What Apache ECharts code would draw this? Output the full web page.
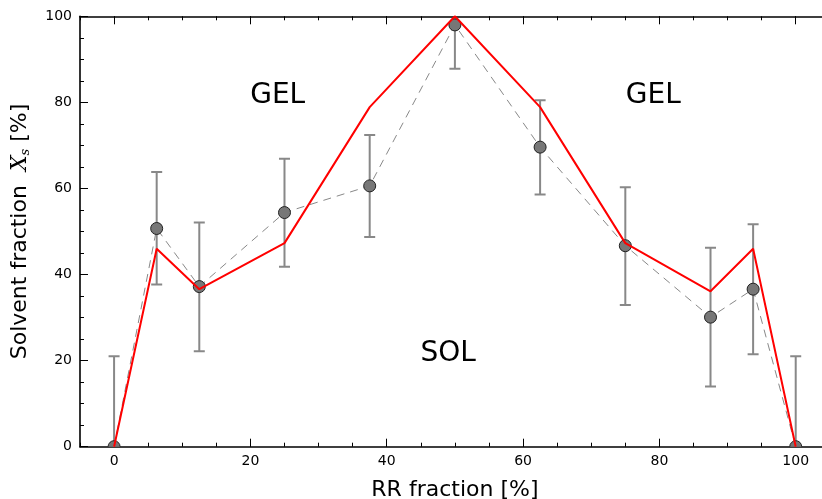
<!DOCTYPE html>
<html>
<head>
<meta charset="utf-8">
<script src="https://cdn.jsdelivr.net/npm/echarts@6/dist/echarts.min.js"></script>
<style>
html,body{margin:0;padding:0;background:#fff;overflow:hidden;}
#chart{width:822px;height:499px;}
</style>
</head>
<body>
<div id="chart"></div>
<script>
// ---- data ----
const xVals = [0, 6.25, 12.5, 25, 37.5, 50, 62.5, 75, 87.5, 93.75, 100];
const meanVals = [0, 50.7, 37.2, 54.4, 60.6, 98.0, 69.6, 46.7, 30.1, 36.6, 0];
const errLow = [-21, 37.7, 22.2, 41.8, 48.7, 87.8, 58.6, 32.9, 14.0, 21.5, -21];
const errHigh = [21, 63.8, 52.1, 66.9, 72.4, 108, 80.5, 60.3, 46.2, 51.7, 21];
const boundaryVals = [0, 46.0, 36.6, 47.3, 78.9, 100, 78.9, 47.3, 36.1, 46.0, 0];
const xMajorTicks = [0, 20, 40, 60, 80, 100];
const regionNames = ['GEL', 'GEL', 'SOL'];
const regionX = [24, 79.1, 49];
const regionY = [81.5, 81.5, 21.5];

const FONT = 'DejaVu Sans';
const chart = echarts.init(document.getElementById('chart'), null, {renderer: 'canvas'});

const errData = xVals.map((x, i) => [x, errLow[i], errHigh[i]]);
const meanData = xVals.map((x, i) => [x, meanVals[i]]);
const boundData = xVals.map((x, i) => [x, boundaryVals[i]]);
const regionData = regionNames.map((n, i) => ({name: n, value: [regionX[i], regionY[i]]}));

function xAxisCfg(pos, major, withLabel) {
  const cfg = {
    type: 'value', position: pos, min: -5, max: 105,
    splitLine: {show: false},
    axisLine: {show: major, onZero: false, lineStyle: {color: '#000', width: 1.6}},
    axisTick: {show: true, inside: true, length: major ? 8 : 4, lineStyle: {color: '#000', width: 1}},
    axisLabel: {show: false}
  };
  if (major) {
    cfg.axisTick.customValues = xMajorTicks;
    if (withLabel) {
      cfg.axisLabel = {show: true, customValues: xMajorTicks, color: '#000', fontFamily: FONT, fontSize: 14, margin: 8};
      cfg.name = 'RR fraction [%]';
      cfg.nameLocation = 'middle';
      cfg.nameGap = 33;
      cfg.nameTextStyle = {color: '#000', fontFamily: FONT, fontSize: 22};
    }
  } else {
    cfg.interval = 5;
  }
  return cfg;
}

const option = {
  animation: false,
  backgroundColor: '#fff',
  grid: {left: 80, top: 16.3, right: -7.8, bottom: 52.3, containLabel: false, outerBoundsMode: 'none'},
  xAxis: [
    xAxisCfg('bottom', true, true),
    xAxisCfg('bottom', false, false),
    xAxisCfg('top', true, false),
    xAxisCfg('top', false, false)
  ],
  yAxis: [{
    type: 'value', min: 0, max: 100, interval: 20,
    splitLine: {show: false},
    axisLine: {show: true, onZero: false, lineStyle: {color: '#000', width: 1.6}},
    axisTick: {show: true, inside: true, length: 8, lineStyle: {color: '#000', width: 1}},
    minorTick: {show: true, splitNumber: 4, length: 4, lineStyle: {color: '#000', width: 1}},
    axisLabel: {color: '#000', fontFamily: FONT, fontSize: 14, margin: 8},
    name: 'Solvent fraction  {i|X}{s|s} [%]',
    nameLocation: 'middle',
    nameGap: 48,
    nameTextStyle: {
      color: '#000', fontFamily: FONT, fontSize: 22,
      rich: {
        i: {fontFamily: 'DejaVu Serif', fontStyle: 'italic', fontSize: 22, color: '#000'},
        s: {fontFamily: 'DejaVu Serif', fontStyle: 'italic', fontSize: 13, color: '#000', padding: [10, 0, 0, 0]}
      }
    }
  }],
  series: [
    {
      type: 'custom', name: 'err', xAxisIndex: 0, yAxisIndex: 0, clip: true, z: 2,
      data: errData,
      renderItem: function (params, api) {
        const x = api.value(0);
        const lo = api.coord([x, api.value(1)]);
        const hi = api.coord([x, api.value(2)]);
        const w = 5.5;
        const st = {stroke: '#888', lineWidth: 2};
        return {type: 'group', children: [
          {type: 'line', shape: {x1: lo[0], y1: lo[1], x2: hi[0], y2: hi[1]}, style: st},
          {type: 'line', shape: {x1: lo[0] - w, y1: lo[1], x2: lo[0] + w, y2: lo[1]}, style: st},
          {type: 'line', shape: {x1: hi[0] - w, y1: hi[1], x2: hi[0] + w, y2: hi[1]}, style: st}
        ]};
      }
    },
    {
      type: 'line', name: 'meanLine', xAxisIndex: 0, yAxisIndex: 0, data: meanData,
      showSymbol: false, symbol: 'none', z: 3,
      lineStyle: {color: '#888', width: 1, type: [8, 6]}
    },
    {
      type: 'custom', name: 'dots', xAxisIndex: 0, yAxisIndex: 0, clip: true, z: 4,
      data: meanData,
      renderItem: function (params, api) {
        const p = api.coord([api.value(0), api.value(1)]);
        return {type: 'circle', shape: {cx: p[0], cy: p[1], r: 6}, style: {fill: '#777', stroke: '#222', lineWidth: 1}};
      }
    },
    {
      type: 'line', name: 'boundary', xAxisIndex: 0, yAxisIndex: 0, data: boundData,
      showSymbol: false, symbol: 'none', z: 5,
      lineStyle: {color: '#ff0000', width: 2}
    },
    {
      type: 'scatter', name: 'regions', xAxisIndex: 0, yAxisIndex: 0, data: regionData,
      symbolSize: 0, z: 6, silent: true,
      itemStyle: {opacity: 1},
      label: {show: true, position: 'inside', formatter: '{b}', color: '#000', opacity: 1, fontFamily: FONT, fontSize: 28}
    }
  ]
};
chart.setOption(option);
</script>
</body>
</html>
